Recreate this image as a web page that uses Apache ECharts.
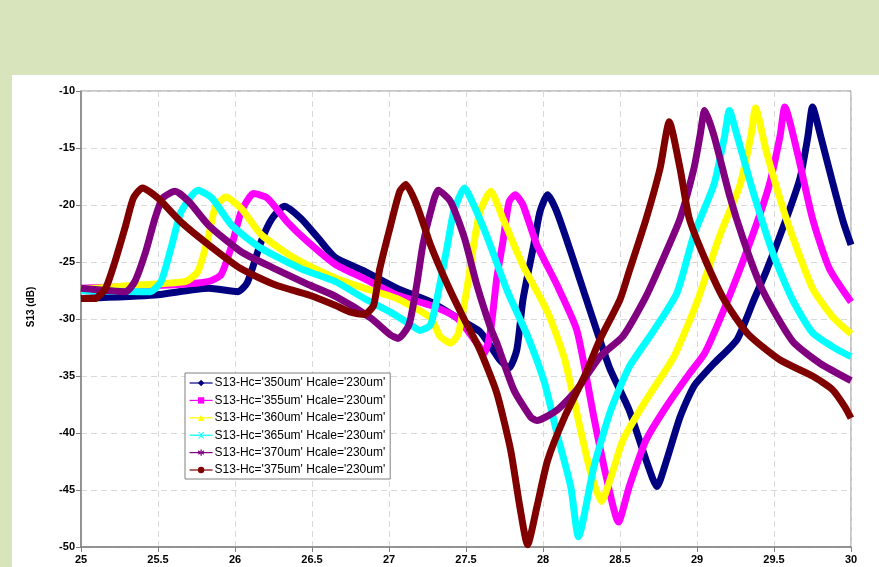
<!DOCTYPE html>
<html>
<head>
<meta charset="utf-8">
<script src="https://cdn.jsdelivr.net/npm/echarts@6/dist/echarts.min.js"></script>
<style>
  html, body { margin: 0; padding: 0; background: #D8E4BC; }
  #chart { width: 879px; height: 567px; }
</style>
</head>
<body>
<div id="chart"></div>
<script>
// Frequency sweep (GHz) and S13 response (dB) for each Hc value
const seriesNames = [
  "S13-Hc='350um' Hcale='230um'",
  "S13-Hc='355um' Hcale='230um'",
  "S13-Hc='360um' Hcale='230um'",
  "S13-Hc='365um' Hcale='230um'",
  "S13-Hc='370um' Hcale='230um'",
  "S13-Hc='375um' Hcale='230um'"
];

const x350 = [25.0, 25.48, 25.83, 26.02, 26.08, 26.17, 26.24, 26.32, 26.43, 26.54, 26.65, 26.84, 27.05, 27.27, 27.48, 27.59, 27.65, 27.72, 27.78, 27.83, 27.87, 27.94, 27.98, 28.03, 28.09, 28.18, 28.27, 28.43, 28.56, 28.67, 28.74, 28.8, 28.89, 28.98, 29.11, 29.26, 29.37, 29.45, 29.58, 29.67, 29.72, 29.75, 29.8, 29.88, 29.95, 30.0];
const y350 = [-28.2, -27.9, -27.3, -27.6, -26.8, -23.2, -21.2, -20.1, -21.2, -22.9, -24.6, -25.8, -27.3, -28.5, -30.2, -31.1, -32.2, -33.6, -34.3, -32.7, -28.3, -23.5, -20.6, -19.1, -20.6, -24.1, -27.8, -34.2, -38.0, -42.4, -44.7, -42.5, -38.6, -35.9, -33.9, -31.8, -28.3, -25.8, -21.2, -17.6, -14.0, -11.4, -13.8, -18.0, -21.5, -23.5];

const x355 = [25.0, 25.61, 25.83, 25.91, 25.98, 26.04, 26.12, 26.21, 26.34, 26.47, 26.65, 26.83, 27.05, 27.27, 27.44, 27.57, 27.62, 27.66, 27.7, 27.74, 27.78, 27.82, 27.87, 27.96, 28.09, 28.22, 28.33, 28.41, 28.49, 28.56, 28.67, 28.8, 28.95, 29.05, 29.21, 29.37, 29.47, 29.54, 29.57, 29.65, 29.75, 29.86, 30.0];
const y355 = [-27.3, -27.0, -26.7, -26.1, -23.5, -20.6, -19.0, -19.4, -21.5, -23.2, -25.2, -26.4, -27.9, -28.8, -29.9, -32.1, -33.0, -31.0, -26.4, -23.2, -19.7, -19.1, -20.0, -23.5, -27.0, -31.0, -38.6, -43.8, -47.8, -44.7, -40.6, -37.7, -34.8, -33.0, -28.0, -22.3, -18.2, -13.9, -11.4, -15.3, -21.2, -25.6, -28.5];

const x360 = [25.0, 25.39, 25.68, 25.76, 25.83, 25.87, 25.94, 26.04, 26.17, 26.39, 26.65, 26.84, 27.05, 27.27, 27.33, 27.4, 27.45, 27.51, 27.55, 27.59, 27.66, 27.74, 27.87, 28.03, 28.14, 28.24, 28.31, 28.38, 28.45, 28.52, 28.67, 28.85, 29.0, 29.15, 29.28, 29.35, 29.38, 29.45, 29.58, 29.75, 29.88, 30.0];
const y360 = [-27.4, -27.0, -26.7, -25.8, -22.6, -20.3, -19.3, -20.3, -22.6, -24.7, -26.4, -27.3, -28.2, -29.9, -31.5, -32.1, -31.3, -27.0, -23.5, -20.6, -18.8, -21.2, -25.3, -29.4, -33.5, -39.5, -43.5, -46.0, -43.5, -40.6, -37.1, -33.3, -28.5, -22.6, -18.2, -13.9, -11.5, -15.3, -21.2, -27.3, -29.8, -31.3];

const x365 = [25.0, 25.39, 25.45, 25.52, 25.59, 25.65, 25.76, 25.85, 25.98, 26.17, 26.43, 26.65, 26.84, 27.01, 27.14, 27.2, 27.27, 27.33, 27.38, 27.42, 27.49, 27.55, 27.64, 27.77, 27.9, 28.01, 28.09, 28.18, 28.23, 28.33, 28.44, 28.56, 28.72, 28.87, 28.98, 29.11, 29.18, 29.21, 29.26, 29.37, 29.5, 29.62, 29.75, 29.9, 30.0];
const y365 = [-27.5, -27.6, -27.6, -26.7, -23.5, -20.6, -18.7, -19.4, -21.8, -23.8, -25.6, -26.7, -28.2, -29.4, -30.5, -31.0, -30.5, -27.0, -23.5, -20.6, -18.5, -20.0, -22.9, -27.6, -31.5, -35.6, -40.0, -44.7, -49.1, -43.0, -38.0, -34.2, -31.0, -27.7, -22.6, -18.2, -13.9, -11.7, -13.9, -19.1, -24.5, -28.3, -31.2, -32.6, -33.3];

const x370 = [25.0, 25.29, 25.35, 25.42, 25.48, 25.53, 25.61, 25.7, 25.83, 26.04, 26.26, 26.48, 26.65, 26.88, 27.01, 27.06, 27.13, 27.18, 27.22, 27.27, 27.32, 27.4, 27.49, 27.57, 27.66, 27.7, 27.81, 27.92, 27.96, 28.09, 28.22, 28.37, 28.52, 28.67, 28.8, 28.89, 28.98, 29.02, 29.05, 29.11, 29.21, 29.3, 29.41, 29.52, 29.63, 29.8, 30.0];
const y370 = [-27.3, -27.6, -26.7, -24.1, -21.2, -19.4, -18.8, -19.7, -21.8, -24.1, -25.6, -27.0, -28.0, -29.9, -31.4, -31.7, -30.5, -27.0, -23.5, -20.6, -18.7, -19.7, -22.9, -27.0, -30.8, -32.1, -36.2, -38.6, -38.9, -38.0, -36.2, -33.3, -31.5, -28.0, -24.1, -21.2, -16.8, -13.9, -11.7, -13.9, -19.1, -23.0, -27.0, -29.8, -32.1, -33.9, -35.4];

const x375 = [25.0, 25.09, 25.16, 25.22, 25.29, 25.34, 25.4, 25.5, 25.65, 25.83, 26.04, 26.26, 26.48, 26.65, 26.75, 26.84, 26.9, 26.94, 27.01, 27.07, 27.11, 27.18, 27.27, 27.38, 27.48, 27.59, 27.7, 27.79, 27.85, 27.9, 27.96, 28.03, 28.14, 28.27, 28.37, 28.5, 28.56, 28.67, 28.76, 28.82, 28.89, 28.95, 29.06, 29.18, 29.33, 29.54, 29.75, 29.88, 29.96, 30.0];
const y375 = [-28.2, -28.2, -27.3, -25.0, -21.8, -19.4, -18.5, -19.4, -21.5, -23.5, -25.6, -27.0, -27.9, -28.8, -29.4, -29.6, -28.8, -25.6, -21.8, -18.8, -18.2, -20.0, -23.5, -27.0, -29.8, -32.7, -36.5, -41.5, -46.5, -49.8, -46.5, -42.4, -38.6, -35.0, -31.8, -28.3, -25.8, -21.2, -16.8, -12.7, -16.8, -21.2, -25.0, -28.4, -31.3, -33.6, -35.0, -36.2, -37.7, -38.7];

const xs = [x350, x355, x360, x365, x370, x375];
const ys = [y350, y355, y360, y365, y370, y375];

const colors = ['#000080', '#FF00FF', '#FFFF00', '#00FFFF', '#800080', '#800000'];
const symbols = [
  'diamond',
  'rect',
  'triangle',
  'path://M0,0 L2,0 L5,3 L8,0 L10,0 L6,4 L6,6 L10,10 L8,10 L5,7 L2,10 L0,10 L4,6 L4,4 Z',
  'path://M4,0 L6,0 L6,3.5 L9,1.5 L10,3.2 L7,5 L10,6.8 L9,8.5 L6,6.5 L6,10 L4,10 L4,6.5 L1,8.5 L0,6.8 L3,5 L0,3.2 L1,1.5 L4,3.5 Z',
  'circle'
];

const series = seriesNames.map((name, i) => ({
  name: name,
  type: 'line',
  data: xs[i].map((x, k) => [x, ys[i][k]]),
  smooth: 0.2,
  symbol: symbols[i],
  symbolSize: 7,
  showSymbol: false,
  color: colors[i],
  lineStyle: { width: 7, color: colors[i] },
  itemStyle: { color: colors[i] },
  z: 2 + i,
  animation: false
}));

const chart = echarts.init(document.getElementById('chart'), null, { renderer: 'canvas' });

chart.setOption({
  backgroundColor: '#D8E4BC',
  animation: false,
  graphic: [{
    type: 'rect',
    z: -10,
    shape: { x: 12, y: 75, width: 867, height: 492 },
    style: { fill: '#FFFFFF' }
  }],
  grid: {
    left: 81, right: 28, top: 91, bottom: 20,
    show: true,
    borderColor: '#8C8C8C',
    borderWidth: 1,
    backgroundColor: 'transparent'
  },
  legend: {
    orient: 'vertical',
    left: 185,
    top: 373,
    padding: [4, 5, 3, 4],
    itemGap: 5.4,
    itemWidth: 23,
    itemHeight: 8,
    backgroundColor: '#FFFFFF',
    borderColor: '#808080',
    borderWidth: 1,
    borderRadius: 0,
    lineStyle: { width: 1.2 },
    textStyle: { fontFamily: 'Liberation Sans, Arial, sans-serif', fontSize: 12, color: '#000', padding: [0, 0, 0, -3] },
    data: seriesNames
  },
  xAxis: {
    type: 'value',
    min: 25,
    max: 30,
    interval: 0.5,
    axisLine: { show: true, lineStyle: { color: '#808080', width: 1.5 } },
    axisTick: { show: true, length: 5, lineStyle: { color: '#808080' } },
    axisLabel: {
      margin: 7,
      fontFamily: 'Liberation Sans, Arial, sans-serif',
      fontWeight: 'bold',
      fontSize: 11,
      color: '#000'
    },
    splitLine: { show: true, lineStyle: { color: '#D9D9D9', type: [6, 4], width: 1 } }
  },
  yAxis: {
    type: 'value',
    min: -50,
    max: -10,
    interval: 5,
    name: 'S13 (dB)',
    nameLocation: 'middle',
    nameGap: 45,
    nameTextStyle: {
      fontFamily: 'Liberation Sans, Arial, sans-serif',
      fontWeight: 'bold',
      fontSize: 10,
      color: '#000',
      padding: [0, 0, 0, 24]
    },
    axisLine: { show: true, lineStyle: { color: '#808080', width: 1.5 } },
    axisTick: { show: true, length: 5, lineStyle: { color: '#808080' } },
    axisLabel: {
      margin: 6,
      fontFamily: 'Liberation Sans, Arial, sans-serif',
      fontWeight: 'bold',
      fontSize: 11,
      color: '#000'
    },
    splitLine: { show: true, lineStyle: { color: '#D9D9D9', type: [6, 4], width: 1 } }
  },
  series: series
});
</script>
</body>
</html>
